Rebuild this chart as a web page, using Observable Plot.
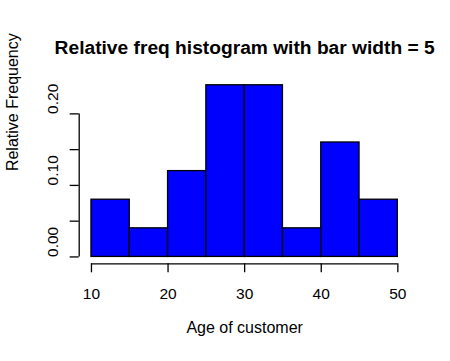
<!DOCTYPE html>
<html>
<head>
<meta charset="utf-8">
<script src="https://cdn.jsdelivr.net/npm/d3@7"></script>
<script src="https://cdn.jsdelivr.net/npm/@observablehq/plot@0.6"></script>
<style>
  html, body { margin: 0; padding: 0; background: #ffffff; }
  svg { display: block; }
</style>
</head>
<body>
<div id="chart"></div>
<script>
// Data
const binStart = [10, 15, 20, 25, 30, 35, 40, 45];
const binWidth = 5;
const relFreq = [0.08, 0.04, 0.12, 0.24, 0.24, 0.04, 0.16, 0.08];
const xTicks = [10, 20, 30, 40, 50];
const yTicks = [0, 0.05, 0.10, 0.15, 0.20];
const yLabels = [0, 0.10, 0.20];
const titleText = "Relative freq histogram with bar width = 5";
const xTitle = "Age of customer";
const yTitle = "Relative Frequency";

const bars = binStart.map((s, i) => ({x1: s, x2: s + binWidth, y: relFreq[i]}));

// R-style 4% expansion of the data range
const xr = [binStart[0], binStart[binStart.length - 1] + binWidth];
const xPad = (xr[1] - xr[0]) * 0.04;
const xDomain = [xr[0] - xPad, xr[1] + xPad];
const yMax = d3.max(relFreq);
const yPad = yMax * 0.04;
const yDomain = [-yPad, yMax + yPad];

const font = "'Liberation Sans', Arial, Helvetica, sans-serif";

const chart = Plot.plot({
  width: 450,
  height: 361,
  marginLeft: 78.7,
  marginRight: 40.4,
  marginTop: 77.9,
  marginBottom: 97.7,
  style: {fontFamily: font, background: "#ffffff", color: "#000000"},
  x: {domain: xDomain, axis: null},
  y: {domain: yDomain, axis: null},
  marks: [
    Plot.rectY(bars, {x1: "x1", x2: "x2", y1: 0, y2: "y", fill: "#0000ff", stroke: "#000000", strokeWidth: 1.3}),
    // x axis
    Plot.ruleY([yDomain[0]], {x1: xTicks[0], x2: xTicks[xTicks.length - 1], stroke: "#000000", strokeWidth: 1.3}),
    Plot.axisX(xTicks, {label: null, tickSize: 9, tickPadding: 15, fontSize: 15.5, tickFormat: d => d, strokeWidth: 1.3, stroke: "#000000", fill: "#000000"}),
    // y axis
    Plot.ruleX([xDomain[0]], {y1: yTicks[0], y2: yTicks[yTicks.length - 1], stroke: "#000000", strokeWidth: 1.3}),
    Plot.axisY(yTicks, {label: null, tickSize: 9, tickFormat: () => "", strokeWidth: 1.3, stroke: "#000000"}),
    Plot.text(yLabels, {y: d => d, text: d => d.toFixed(2), frameAnchor: "left", dx: -26, rotate: -90, fontSize: 15.5, fill: "#000000"}),
    // titles
    Plot.text([titleText], {frameAnchor: "top", dy: -38, fontSize: 19.2, fontWeight: "bold", fill: "#000000"}),
    Plot.text([xTitle], {frameAnchor: "bottom", dy: 69, fontSize: 16, fill: "#000000"}),
    Plot.text([yTitle], {frameAnchor: "left", dx: -66, rotate: -90, fontSize: 16, fill: "#000000"})
  ]
});
document.getElementById("chart").appendChild(chart);
</script>
</body>
</html>
